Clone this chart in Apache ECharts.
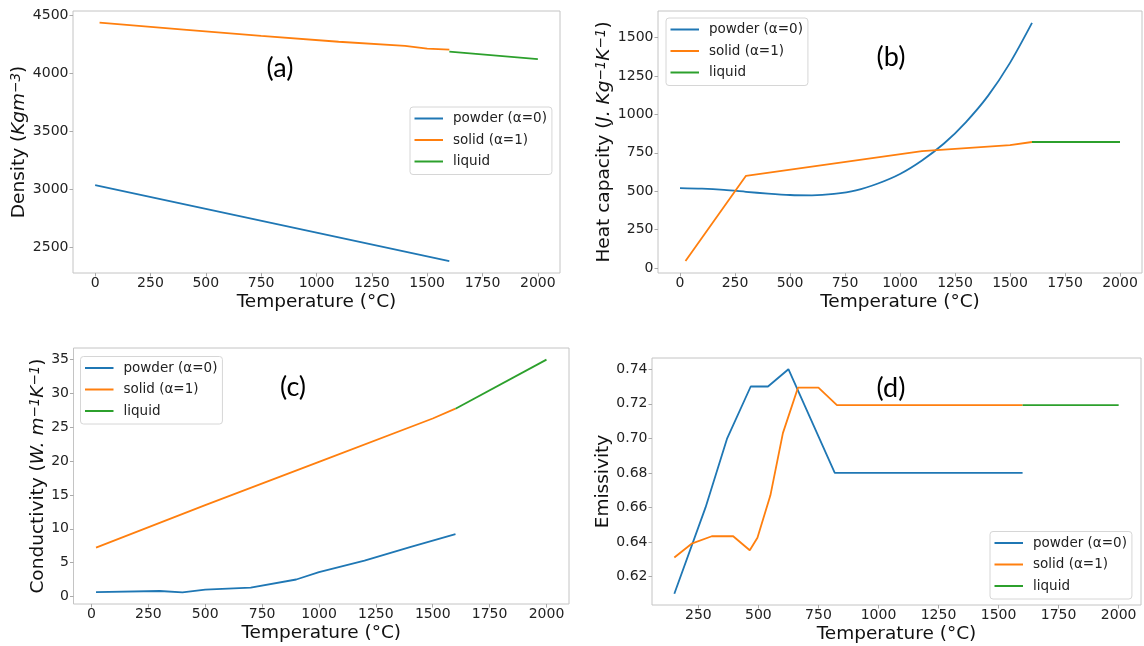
<!DOCTYPE html>
<html><head><meta charset="utf-8">
<script src="https://cdn.jsdelivr.net/npm/echarts@6/dist/echarts.min.js"></script>
<style>html,body{margin:0;padding:0;background:#fff}#c{width:1144px;height:646px}</style>
</head><body><div id="c"></div>
<script>
// ---- tick labels ----
const tempTicks = [0, 250, 500, 750, 1000, 1250, 1500, 1750, 2000];
const tempTicksD = [250, 500, 750, 1000, 1250, 1500, 1750, 2000];
const densityTicks = [2500, 3000, 3500, 4000, 4500];
const heatTicks = [0, 250, 500, 750, 1000, 1250, 1500];
const condTicks = [0, 5, 10, 15, 20, 25, 30, 35];
const emisTicks = [0.62, 0.64, 0.66, 0.68, 0.70, 0.72, 0.74];
const seriesNames = ['powder (α=0)', 'solid (α=1)', 'liquid'];
const panelLabels = ['(a)', '(b)', '(c)', '(d)'];

// ---- (a) density ----
const densityPowder = [[0, 3035], [1600, 2380]];
const densitySolid = [[20, 4435], [400, 4375], [750, 4320], [1100, 4270], [1400, 4235], [1500, 4210], [1600, 4202]];
const densityLiquid = [[1600, 4185], [2000, 4120]];

// ---- (b) heat capacity ----
const heatPowder = [[0, 520], [100, 516], [200, 508], [300, 496], [400, 484], [500, 475], [600, 473], [700, 482], [800, 505], [900, 550], [1000, 612], [1100, 700], [1200, 810], [1300, 950], [1400, 1120], [1500, 1335], [1600, 1595]];
const heatSolid = [[25, 45], [300, 600], [1100, 760], [1500, 800], [1600, 820]];
const heatLiquid = [[1600, 820], [2000, 820]];

// ---- (c) conductivity ----
const condPowder = [[20, 0.65], [300, 0.8], [400, 0.6], [500, 1.0], [700, 1.3], [900, 2.5], [1000, 3.6], [1200, 5.3], [1400, 7.3], [1600, 9.2]];
const condSolid = [[20, 7.2], [500, 13.5], [1000, 19.9], [1500, 26.3], [1600, 27.75]];
const condLiquid = [[1600, 27.75], [2000, 35]];

// ---- (d) emissivity ----
const emisPowder = [[150, 0.61], [280, 0.66], [370, 0.70], [468, 0.73], [540, 0.73], [625, 0.74], [818, 0.68], [1600, 0.68]];
const emisSolid = [[150, 0.631], [222, 0.639], [306, 0.6433], [395, 0.6433], [464, 0.6352], [496, 0.6424], [550, 0.667], [602, 0.703], [665, 0.7294], [750, 0.7294], [827, 0.7192], [1600, 0.7192]];
const emisLiquid = [[1600, 0.7192], [2000, 0.7192]];

const colors = ['#1f77b4', '#ff7f0e', '#2ca02c'];
const FONT = 'DejaVu Sans';
const TXT = '#222';
const FRAME = '#c4c4c4';

const grids = [
  {left: 73, top: 11, width: 487, height: 262},
  {left: 658, top: 11, width: 484, height: 262},
  {left: 73.5, top: 348, width: 495.5, height: 256},
  {left: 652, top: 358, width: 489, height: 247}
].map(g => Object.assign(g, {show: true, borderColor: FRAME, borderWidth: 1, backgroundColor: '#fff', outerBoundsMode: 'none', containLabel: false}));

const plain = v => String(v);

function xAxis(i, min, max, ticks) {
  return {
    type: 'value', gridIndex: i, min: min, max: max, position: 'bottom',
    splitLine: {show: false}, axisLine: {show: false, onZero: false},
    axisTick: {show: true, length: 3.5, lineStyle: {color: '#aaa'}, customValues: ticks},
    axisLabel: {customValues: ticks, margin: 3, fontSize: 14, fontFamily: FONT, color: TXT, formatter: plain},
    name: 'Temperature (°C)', nameLocation: 'middle', nameGap: 20,
    nameTextStyle: {fontSize: 18.5, fontFamily: FONT, color: '#111'}
  };
}
const richStyles = {
  n: {fontSize: 18.5, fontFamily: FONT, color: '#111'},
  i: {fontSize: 18.5, fontFamily: FONT, color: '#111', fontStyle: 'italic'},
  s: {fontSize: 13.5, fontFamily: FONT, color: '#111', fontStyle: 'italic', verticalAlign: 'top'}
};
function yAxis(i, min, max, ticks, name, gap, fmt) {
  return {
    type: 'value', gridIndex: i, min: min, max: max, position: 'left',
    splitLine: {show: false}, axisLine: {show: false, onZero: false},
    axisTick: {show: true, length: 3.5, lineStyle: {color: '#aaa'}, customValues: ticks},
    axisLabel: {customValues: ticks, margin: 4.5, fontSize: 14, fontFamily: FONT, color: TXT, formatter: fmt || plain},
    name: name, nameLocation: 'middle', nameGap: gap,
    nameTextStyle: {fontSize: 18.5, fontFamily: FONT, color: '#111', rich: richStyles}
  };
}
function lines(i, arrs) {
  return arrs.map((d, k) => ({
    type: 'line', name: seriesNames[k], xAxisIndex: i, yAxisIndex: i, data: d,
    showSymbol: false, symbol: 'none', smooth: (i === 1 && k === 0) ? 0.3 : false,
    lineStyle: {width: 1.8, color: colors[k]}, itemStyle: {color: colors[k]},
    z: 2 + k
  }));
}
function legend(left, top) {
  return {
    data: seriesNames, orient: 'vertical', left: left, top: top,
    icon: 'rect', itemWidth: 28.5, itemHeight: 2, itemGap: 5.5,
    padding: [3.5, 5, 5, 4.5],
    backgroundColor: 'rgba(255,255,255,0.85)', borderColor: '#d6d6d6', borderWidth: 1, borderRadius: 3,
    textStyle: {fontSize: 13.5, fontFamily: FONT, color: TXT, lineHeight: 16, padding: [0, 0, 0, 5]},
    selectedMode: false
  };
}
const labelPos = [[280, 68], [891, 57], [293, 387], [891, 388]];

const option = {
  animation: false,
  backgroundColor: '#fff',
  grid: grids,
  xAxis: [
    xAxis(0, -100, 2100, tempTicks),
    xAxis(1, -100, 2100, tempTicks),
    xAxis(2, -79, 2099, tempTicks),
    xAxis(3, 57, 2093, tempTicksD)
  ],
  yAxis: [
    yAxis(0, 2277, 4535, densityTicks, '{n|Density (}{i|Kgm}{s|−3}{n|)}', 41),
    yAxis(1, -32.5, 1672.5, heatTicks, '{n|Heat capacity (}{i|J. Kg}{s|−1}{i|K}{s|−1}{n|)}', 39),
    yAxis(2, -1.12, 36.72, condTicks, '{n|Conductivity (}{i|W. m}{s|−1}{i|K}{s|−1}{n|)}', 25),
    yAxis(3, 0.6035, 0.7465, emisTicks, 'Emissivity', 35, v => v.toFixed(2))
  ],
  legend: [legend(410, 107), legend(666, 18), legend(80.5, 356.5), legend(990, 531.5)],
  graphic: panelLabels.map((t, i) => ({
    type: 'text', x: labelPos[i][0], y: labelPos[i][1], z: 10,
    style: {text: t, fontSize: 27, fontFamily: 'Lato', fill: '#000', align: 'center', verticalAlign: 'middle'}
  })),
  series: [].concat(
    lines(0, [densityPowder, densitySolid, densityLiquid]),
    lines(1, [heatPowder, heatSolid, heatLiquid]),
    lines(2, [condPowder, condSolid, condLiquid]),
    lines(3, [emisPowder, emisSolid, emisLiquid])
  )
};
const chart = echarts.init(document.getElementById('c'));
chart.setOption(option);
</script></body></html>
